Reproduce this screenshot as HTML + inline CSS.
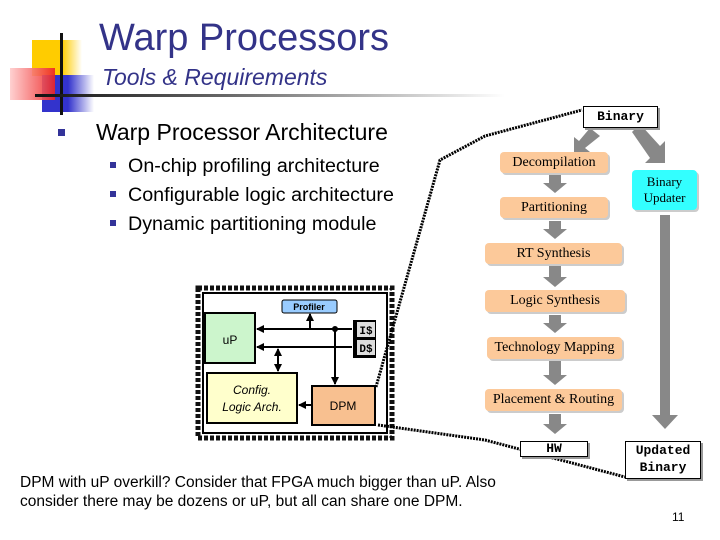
<!DOCTYPE html>
<html><head><style>
body{margin:0;width:720px;height:540px;background:#fff;position:relative;overflow:hidden;font-family:"Liberation Sans",sans-serif}
.a{position:absolute}
.fb{position:absolute;background:#fcc99a;border-radius:4px;box-shadow:2px 2px 0 #ccc;font-family:"Liberation Serif",serif;font-size:14px;text-align:center;color:#000}
.nb{position:absolute;background:#fff;border:1px solid #000;font-family:"Liberation Mono",monospace;font-weight:bold;font-size:13px;text-align:center;box-shadow:2px 2px 0 #999}
</style></head><body>
<div class="a" style="left:32px;top:40px;width:50px;height:36px;background:linear-gradient(90deg,#fc0,#fc0 60%,#fff)"></div>
<div class="a" style="left:42px;top:75px;width:52px;height:37px;background:linear-gradient(90deg,#33c,#33c 50%,#fff)"></div>
<div class="a" style="left:10px;top:68px;width:45px;height:32px;background:linear-gradient(90deg,#fcc,#e22);opacity:.9"></div>
<div class="a" style="left:60px;top:33px;width:3px;height:82px;background:#111"></div>
<div class="a" style="left:35px;top:94px;width:470px;height:3px;background:linear-gradient(90deg,#111,#666 40%,#fff)"></div>
<div class="a" style="left:99px;top:17px;font-size:38px;color:#333388">Warp Processors</div>
<div class="a" style="left:102px;top:64px;font-size:23px;font-style:italic;color:#333388">Tools &amp; Requirements</div>
<div class="a" style="left:58px;top:129px;width:7px;height:7px;background:#333399"></div>
<div class="a" style="left:96px;top:119px;font-size:23px">Warp Processor Architecture</div>
<div class="a" style="left:110px;top:162px;width:6px;height:6px;background:#333399"></div>
<div class="a" style="left:110px;top:191px;width:6px;height:6px;background:#333399"></div>
<div class="a" style="left:110px;top:220px;width:6px;height:6px;background:#333399"></div>
<div class="a" style="left:128px;top:152px;font-size:19.7px;line-height:29px">On-chip profiling architecture<br>Configurable logic architecture<br>Dynamic partitioning module</div>

<svg class="a" style="left:0;top:0" width="720" height="540">
<defs><marker id="m" markerUnits="userSpaceOnUse" markerWidth="8" markerHeight="8" refX="7" refY="4" orient="auto"><path d="M0,0L8,4L0,8z" fill="#000"/></marker>
<marker id="s" markerUnits="userSpaceOnUse" markerWidth="8" markerHeight="8" refX="1" refY="4" orient="auto"><path d="M8,0L0,4L8,8z" fill="#000"/></marker></defs>
<rect x="198" y="288" width="194" height="150" fill="none" stroke="#111" stroke-width="5" stroke-dasharray="4 2"/>
<rect x="203" y="293" width="184" height="140" fill="#fff" stroke="#000" stroke-width="2"/>
<line x1="257" y1="329" x2="352" y2="329" stroke="#000" stroke-width="2" marker-start="url(#s)"/>
<line x1="257" y1="347" x2="352" y2="347" stroke="#000" stroke-width="2" marker-start="url(#s)"/>
<line x1="310" y1="329" x2="310" y2="314" stroke="#000" stroke-width="2" marker-end="url(#m)"/>
<line x1="335" y1="329" x2="335" y2="384" stroke="#000" stroke-width="2" marker-end="url(#m)"/>
<circle cx="335" cy="329" r="3"/>
<line x1="278" y1="349" x2="278" y2="371" stroke="#000" stroke-width="2" marker-start="url(#s)" marker-end="url(#m)"/>
<line x1="312" y1="405" x2="299" y2="405" stroke="#000" stroke-width="2" marker-end="url(#m)"/>
<rect x="205" y="313" width="50" height="50" fill="#ccf5cc" stroke="#000" stroke-width="2"/>
<text x="230" y="344" font-size="12" text-anchor="middle" font-family="Liberation Sans">uP</text>
<rect x="282" y="300" width="55" height="13" rx="2" fill="#99ccff" stroke="#000"/>
<text x="309" y="310" font-size="9" font-weight="bold" text-anchor="middle" font-family="Liberation Sans">Profiler</text>
<rect x="353" y="320" width="23" height="38" fill="#000"/>
<rect x="357" y="322" width="18" height="15" fill="#ddd"/><rect x="357" y="340" width="18" height="15" fill="#ddd"/>
<text x="366" y="334" font-size="11" font-weight="bold" text-anchor="middle" font-family="Liberation Mono">I$</text>
<text x="366" y="352" font-size="11" font-weight="bold" text-anchor="middle" font-family="Liberation Mono">D$</text>
<rect x="207" y="373" width="90" height="50" fill="#ffffcc" stroke="#000" stroke-width="2"/>
<text x="252" y="394" font-size="12" font-style="italic" text-anchor="middle" font-family="Liberation Sans">Config.</text>
<text x="252" y="411" font-size="12" font-style="italic" text-anchor="middle" font-family="Liberation Sans">Logic Arch.</text>
<rect x="312" y="386" width="63" height="39" fill="#f8c090" stroke="#000" stroke-width="2"/>
<text x="343" y="410" font-size="12" text-anchor="middle" font-family="Liberation Sans">DPM</text>
<polyline points="376,387 440,160 485,136 582,110" fill="none" stroke="#000" stroke-width="3" stroke-dasharray="2 1"/>
<polyline points="378,425 485,440 625,477" fill="none" stroke="#000" stroke-width="3" stroke-dasharray="2 1"/>
<g fill="#888">
<path d="M590,128 L600,136 L585,148 L590,152 L574,152 L574,137 L579,141z"/>
<path d="M632,132 L640,124 L660,146 L665,141 L665,163 L645,163 L650,158z"/>
<path d="M549,175h12v8h6l-12,10l-12,-10h6z"/>
<path d="M549,221h12v8h6l-12,10l-12,-10h6z"/>
<path d="M549,266h12v11h6l-12,10l-12,-10h6z"/>
<path d="M549,315h12v8h6l-12,10l-12,-10h6z"/>
<path d="M549,361h12v14h6l-12,10l-12,-10h6z"/>
<path d="M549,414h12v10h6l-12,10l-12,-10h6z"/>
<path d="M660,215h10v200h8l-13,14l-13,-14h8z"/>
</g>
</svg>
<div class="fb" style="left:500px;top:152px;width:108px;height:21px;line-height:21px">Decompilation</div>
<div class="fb" style="left:500px;top:197px;width:108px;height:21px;line-height:21px">Partitioning</div>
<div class="fb" style="left:485px;top:243px;width:137px;height:21px;line-height:21px">RT Synthesis</div>
<div class="fb" style="left:485px;top:290px;width:140px;height:22px;line-height:22px">Logic Synthesis</div>
<div class="fb" style="left:487px;top:337px;width:135px;height:22px;line-height:22px">Technology Mapping</div>
<div class="fb" style="left:485px;top:389px;width:137px;height:22px;line-height:22px">Placement &amp; Routing</div>
<div class="a" style="left:632px;top:170px;width:65px;height:40px;background:#3ff;border-radius:4px;box-shadow:2px 2px 0 #ccc;font-family:'Liberation Serif',serif;font-size:13px;text-align:center;line-height:16px;padding-top:4px;box-sizing:border-box">Binary<br>Updater</div>
<div class="nb" style="left:583px;top:106px;width:73px;height:20px;line-height:20px">Binary</div>
<div class="nb" style="left:520px;top:441px;width:66px;height:14px;line-height:14px">HW</div>
<div class="nb" style="left:625px;top:441px;width:74px;height:36px;line-height:17px;font-size:13px">Updated<br>Binary</div>
<div class="a" style="left:20px;top:473px;font-size:15.5px;line-height:19px">DPM with uP overkill? Consider that FPGA much bigger than uP. Also<br>consider there may be dozens or uP, but all can share one DPM.</div>
<div class="a" style="left:672px;top:510px;font-size:12px">11</div>
</body></html>
